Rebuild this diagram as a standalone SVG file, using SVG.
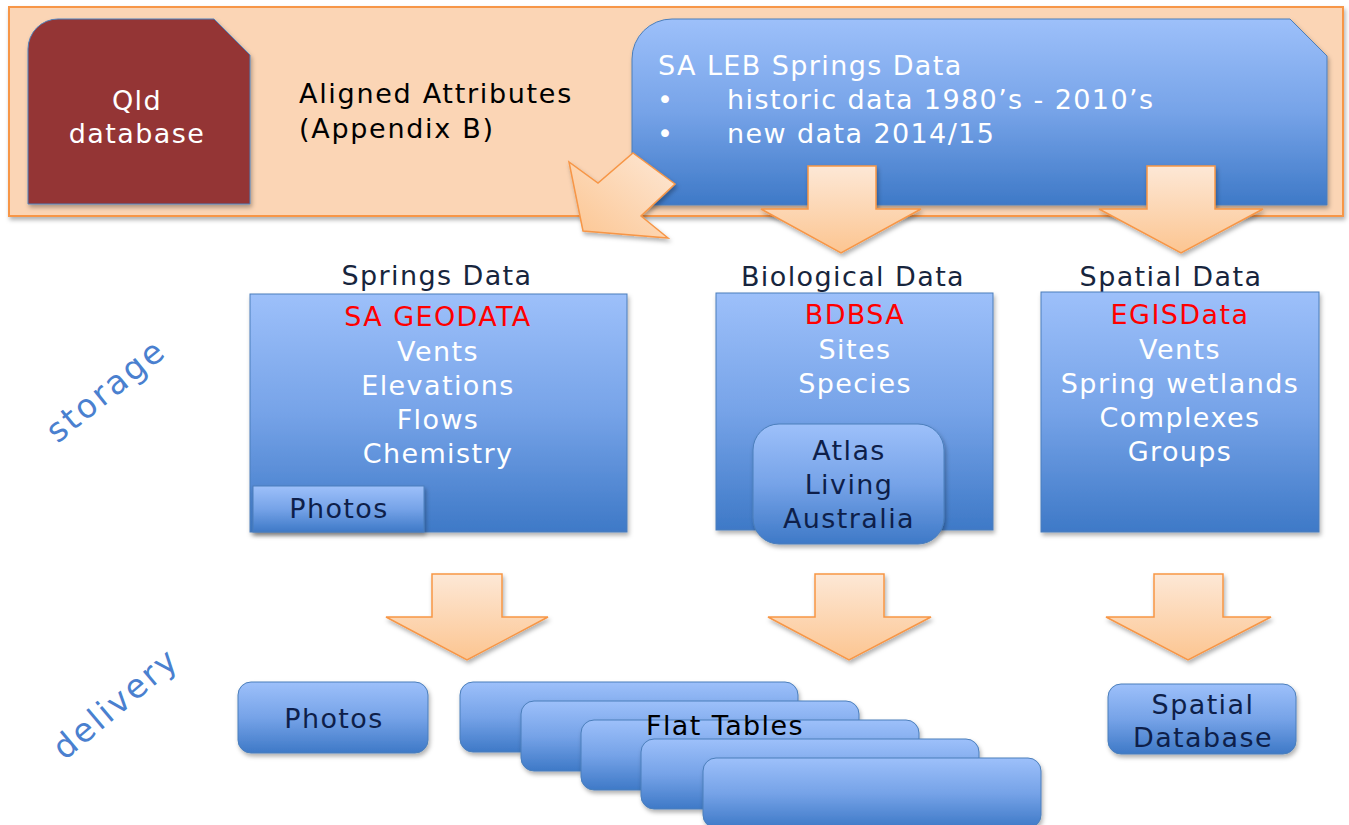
<svg xmlns="http://www.w3.org/2000/svg" width="1349" height="825" viewBox="0 0 1349 825">
<defs>
  <linearGradient id="blue" x1="0" y1="0" x2="0" y2="1">
    <stop offset="0" stop-color="#9dc0fa"/>
    <stop offset="0.5" stop-color="#76a3e8"/>
    <stop offset="1" stop-color="#3e79c7"/>
  </linearGradient>
  <linearGradient id="orange" x1="0" y1="0" x2="0" y2="1">
    <stop offset="0" stop-color="#fde8d6"/>
    <stop offset="1" stop-color="#fcc591"/>
  </linearGradient>
  <linearGradient id="orangeDiag" x1="1" y1="0" x2="0" y2="1">
    <stop offset="0" stop-color="#fde8d6"/>
    <stop offset="1" stop-color="#fcc591"/>
  </linearGradient>
  <filter id="sh" x="-10%" y="-10%" width="125%" height="130%">
    <feDropShadow dx="1.5" dy="3" stdDeviation="2" flood-color="#000" flood-opacity="0.3"/>
  </filter>
  <style>
    .t { font-family: "DejaVu Sans", "Open Sans", sans-serif; font-size: 27px; letter-spacing: 1.4px; }
    .m { text-anchor: middle; }
    .w { fill: #ffffff; }
    .r { fill: #ff0000; }
    .n { fill: #0e1f4a; }
    .h { fill: #17253d; }
    .k { fill: #000000; }
    .lbl { font-family: "DejaVu Sans", "Open Sans", sans-serif; font-size: 33px; letter-spacing: 2.5px; fill: #4a80cf; text-anchor: middle; }
    .box { fill: url(#blue); stroke: #4a7ebb; stroke-width: 1; filter: url(#sh); }
    .arr { fill: url(#orange); stroke: #f79646; stroke-width: 1.5; stroke-linejoin: miter; filter: url(#sh); }
  </style>
</defs>
<rect width="1349" height="825" fill="#ffffff"/>

<g id="source-panel">
  <rect x="9" y="7" width="1334" height="209" fill="#fbd5b5" stroke="#f79646" stroke-width="2" filter="url(#sh)"/>
</g>

<g id="qld-database">
  <path d="M28,204 L28,49 A30,30 0 0 1 58,19 L214,19 L250,55 L250,204 Z" fill="#943634" stroke="#4f81bd" stroke-width="1" filter="url(#sh)"/>
  <text class="t m w"><tspan x="137" y="110">Qld</tspan><tspan x="137" y="143">database</tspan></text>
</g>

<g id="aligned-attributes">
  <text class="t k" style="letter-spacing:1.7px"><tspan x="299" y="103">Aligned Attributes</tspan><tspan x="299" y="138">(Appendix B)</tspan></text>
</g>

<g id="sa-leb-springs-data">
  <path d="M632,205 L632,59 A40,40 0 0 1 672,19 L1290,19 L1327,56 L1327,205 Z" class="box"/>
  <text class="t w"><tspan x="658" y="75">SA LEB Springs Data</tspan><tspan x="657" y="109">•</tspan><tspan x="727" y="109">historic data 1980’s - 2010’s</tspan><tspan x="657" y="143">•</tspan><tspan x="727" y="143">new data 2014/15</tspan></text>
</g>

<g id="connectors">
  <polygon class="arr" style="fill:url(#orangeDiag)" points="633,153 675,184 641,216 668,238 583,231 569,162 598,183"/>
  <polygon class="arr" points="808,166 876,166 876,209 921,209 841,253 761,209 808,209"/>
  <polygon class="arr" points="1147,166 1215,166 1215,209 1263,209 1181,253 1099,209 1147,209"/>
  <polygon class="arr" points="432,574 502,574 502,617 548,617 467,660 386,617 432,617"/>
  <polygon class="arr" points="815,574 884,574 884,617 931,617 849,660 768,617 815,617"/>
  <polygon class="arr" points="1154,574 1223,574 1223,617 1271,617 1188,660 1106,617 1154,617"/>
</g>

<g id="label-storage">
  <text class="lbl" transform="translate(113,399) rotate(-39)">storage</text>
</g>
<g id="label-delivery">
  <text class="lbl" transform="translate(123,712) rotate(-40)">delivery</text>
</g>

<g id="springs-data">
  <text class="t m h" x="437" y="285">Springs Data</text>
  <rect class="box" x="250" y="294" width="377" height="238"/>
  <text class="t m"><tspan class="r" x="438" y="326">SA GEODATA</tspan><tspan class="w" x="438" y="361">Vents</tspan><tspan class="w" x="438" y="395">Elevations</tspan><tspan class="w" x="438" y="429">Flows</tspan><tspan class="w" x="438" y="463">Chemistry</tspan></text>
</g>
<g id="photos-storage">
  <rect class="box" x="253" y="486" width="171" height="46"/>
  <text class="t m n" x="339" y="518">Photos</text>
</g>

<g id="biological-data">
  <text class="t m h" x="853" y="286">Biological Data</text>
  <rect class="box" x="716" y="293" width="277" height="237"/>
  <text class="t m"><tspan class="r" x="855" y="324">BDBSA</tspan><tspan class="w" x="855" y="359">Sites</tspan><tspan class="w" x="855" y="393">Species</tspan></text>
</g>
<g id="atlas-living-australia">
  <rect class="box" x="753" y="424" width="191" height="120" rx="26"/>
  <text class="t m n"><tspan x="849" y="460">Atlas</tspan><tspan x="849" y="494">Living</tspan><tspan x="849" y="528">Australia</tspan></text>
</g>

<g id="spatial-data">
  <text class="t m h" x="1171" y="286">Spatial Data</text>
  <rect class="box" x="1041" y="292" width="278" height="240"/>
  <text class="t m"><tspan class="r" x="1180" y="324">EGISData</tspan><tspan class="w" x="1180" y="359">Vents</tspan><tspan class="w" x="1180" y="393">Spring wetlands</tspan><tspan class="w" x="1180" y="427">Complexes</tspan><tspan class="w" x="1180" y="461">Groups</tspan></text>
</g>

<g id="photos-delivery">
  <rect class="box" x="238" y="682" width="190" height="71" rx="13"/>
  <text class="t m n" x="334" y="728">Photos</text>
</g>

<g id="flat-tables">
  <rect class="box" x="460" y="682" width="338" height="70" rx="13"/>
  <rect class="box" x="521" y="701" width="338" height="70" rx="13"/>
  <rect class="box" x="581" y="720" width="338" height="70" rx="13"/>
  <rect class="box" x="641" y="739" width="338" height="70" rx="13"/>
  <rect class="box" x="703" y="758" width="338" height="70" rx="13"/>
  <text class="t m k" x="725" y="735">Flat Tables</text>
</g>

<g id="spatial-database">
  <rect class="box" x="1108" y="684" width="188" height="70" rx="13"/>
  <text class="t m n"><tspan x="1203" y="714">Spatial</tspan><tspan x="1203" y="747">Database</tspan></text>
</g>
</svg>
